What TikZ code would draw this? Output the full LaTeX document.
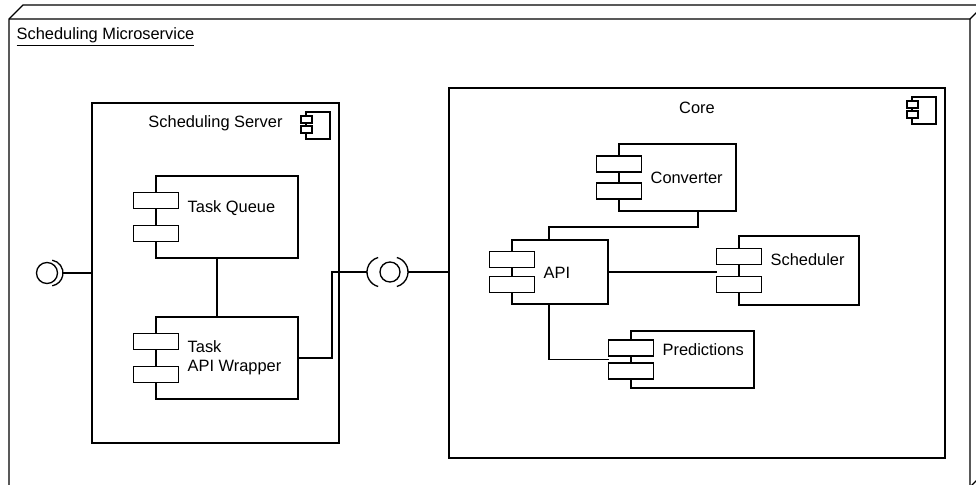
\documentclass[tikz,border=0pt]{standalone}
\usepackage{fontspec}
\setmainfont{Liberation Sans}
\usetikzlibrary{calc}

\tikzset{every picture/.style={line width=1pt}}
\tikzset{
  box/.style={draw, fill=white, inner sep=0pt, outer sep=0pt, anchor=north west},
  port/.style={draw, fill=white, inner sep=0pt, outer sep=0pt, minimum width=33.75pt, minimum height=12pt},
  txt/.style={inner sep=0pt, align=left, font=\fontsize{12.3}{14.6}\selectfont},
}

% component with its two ports on the left side
\newcommand{\umlcomp}[7]{%
  \node[box, minimum width=#4*0.75pt, minimum height=#5*0.75pt] (#1) at (#2,#3) {};
  \node[port] (#1-p1) at ($(#1.north west)!0.3!(#1.south west)$) {};
  \node[port] (#1-p2) at ($(#1.north west)!0.7!(#1.south west)$) {};
  \node[txt, anchor=west] (#1-t) at ($(#1.north west)+(31,#6)$) {#7};
}
% little component sign in the corner of a container
\newcommand{\compicon}[1]{%
  \draw ($(#1.north east)+(-33,9)$) rectangle ($(#1.north east)+(-9,36)$);
  \draw[fill=white] ($(#1.north east)+(-38,13)$) rectangle ($(#1.north east)+(-27,20)$);
  \draw[fill=white] ($(#1.north east)+(-38,23)$) rectangle ($(#1.north east)+(-27,30)$);
}

\begin{document}
\begin{tikzpicture}[x=0.75pt,y=0.75pt,yscale=-1,xscale=1]
        \useasboundingbox (0,0) rectangle (976,485);
        \clip (0,0) rectangle (976,485);

        % outer frame
        \draw (9,487) -- (9,19) -- (23,5) -- (990,5);
        \draw (9,19) -- (970,19) -- (984,5);
        \draw (970,19) -- (970,487) -- (984,473);
        \node[txt, anchor=base west] (title) at (16,40) {\underline{Scheduling Microservice}};

        % Scheduling Server
        \node[box, minimum width=247*0.75pt, minimum height=340*0.75pt] (server) at (92,103) {};
        \node[txt] (server-t) at ($(server.north)+(0,20)$) {Scheduling Server};
        \compicon{server}
        \umlcomp{tq}{156}{176}{142}{82}{32}{Task Queue}
        \umlcomp{taw}{156}{317}{142}{82}{41}{Task\\API Wrapper}
        \draw ($(tq.south)+(-10,0)$) -- ($(taw.north)+(-10,0)$);

        % Core
        \node[box, minimum width=496*0.75pt, minimum height=370*0.75pt] (core) at (449,88) {};
        \node[txt] (core-t) at ($(core.north)+(0,20)$) {Core};
        \compicon{core}
        \umlcomp{conv}{619}{144}{117}{67}{34}{Converter}
        \umlcomp{api}{512}{240}{96}{64}{33}{API}
        \umlcomp{sched}{739}{236}{120}{69}{24}{Scheduler}
        \umlcomp{pred}{631}{331}{123}{57}{19}{Predictions}

        \coordinate (c1) at ($(conv.south)+(20.5,0)$);
        \coordinate (a1) at ($(api.north)+(-11,0)$);
        \coordinate (a2) at ($(api.south)+(-11,0)$);
        \draw (c1) -- ++(0,16) -| (a1);
        \draw (api.east) -- (api.east -| sched-p1.west);
        \draw (a2) |- (pred-p1.west |- pred.west);

        % left interface
        \node[circle, draw, minimum size=21*0.75pt, inner sep=0pt] (ball-l) at (47,273) {};
        \draw (50,273) ++(-80:13) arc[start angle=-80, end angle=80, radius=13];
        \coordinate (sock-l) at (63,273);
        \draw[line width=1.5pt] (sock-l) -- (server.west);

        % interface between server and core
        \node[circle, draw, minimum size=20*0.75pt, inner sep=0pt] (ball-m) at (390,272) {};
        \draw (382,272) ++(105:15) arc[start angle=105, end angle=255, radius=15];
        \draw (393,272) ++(-75:15) arc[start angle=-75, end angle=75, radius=15];
        \coordinate (sock-a) at (367,272);
        \coordinate (sock-b) at (408,272);
        \draw (taw.east) -- ++(34,0) |- (sock-a);
        \draw (sock-b) -- (core.west |- sock-b);
        \draw[line width=2pt] (422,272) -- (437,272);
    \end{tikzpicture}
\end{document}
